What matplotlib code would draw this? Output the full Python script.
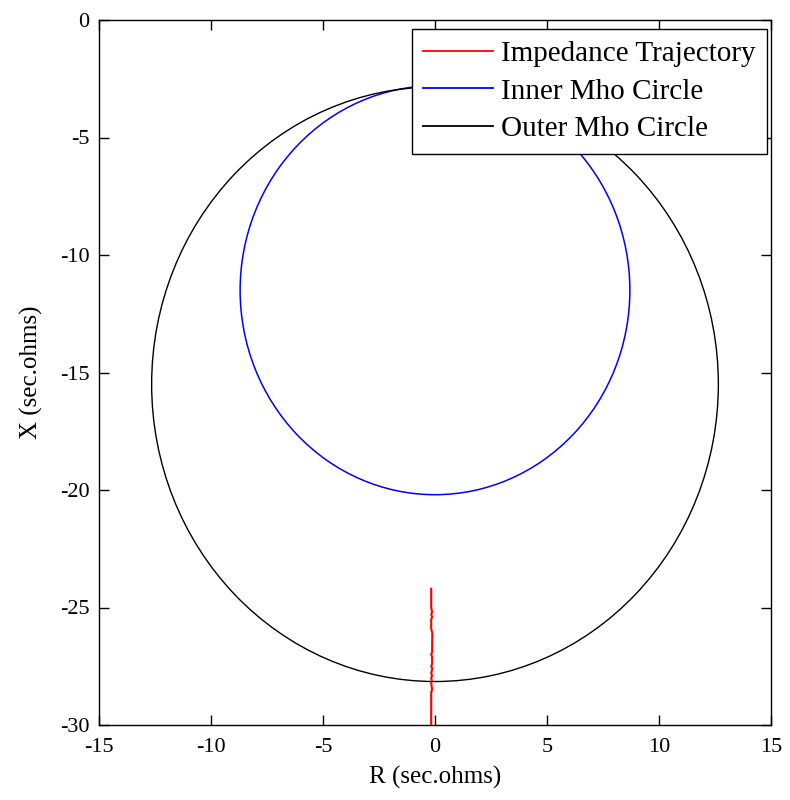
import matplotlib
matplotlib.use("Agg")
import matplotlib.pyplot as plt
from matplotlib.patches import Circle
from matplotlib.lines import Line2D

plt.rcParams['font.family'] = ['Liberation Serif', 'DejaVu Serif']
plt.rcParams['axes.unicode_minus'] = False

# Impedance trajectory samples (R, X) in secondary ohms
traj_r = [-0.17, -0.17, -0.17, -0.13, -0.17, -0.13, -0.17, -0.17, -0.12, -0.13,
          -0.17, -0.13, -0.13, -0.17, -0.12, -0.17, -0.13, -0.17, -0.14, -0.17,
          -0.13, -0.17, -0.17, -0.17]
traj_x = [-24.2, -24.6, -25.0, -25.2, -25.3, -25.4, -25.5, -25.9, -26.1, -26.9,
          -27.0, -27.1, -27.4, -27.5, -27.6, -27.8, -27.9, -28.0, -28.1, -28.2,
          -28.5, -28.6, -29.5, -31.0]

# Mho circles: centre (R, X) and radius
inner_center = (0.0, -11.5)
inner_radius = 8.7
outer_center = (0.0, -15.5)
outer_radius = 12.65

x_limits = (-15, 15)
y_limits = (-30, 0)
x_ticks = [-15, -10, -5, 0, 5, 10, 15]
y_ticks = [-30, -25, -20, -15, -10, -5, 0]

fig = plt.figure(figsize=(7.9, 8.0), dpi=100)
ax = fig.add_axes([99/790, 75/800, 672/790, 705/800])

ax.plot(traj_r, traj_x, color='#ff0000', lw=1.5, zorder=3)
ax.add_patch(Circle(inner_center, inner_radius, fill=False, ec='#0000ff', lw=1.1, zorder=2))
ax.add_patch(Circle(outer_center, outer_radius, fill=False, ec='black', lw=1.0, zorder=2))

ax.set_xlim(*x_limits)
ax.set_ylim(*y_limits)
ax.set_xticks(x_ticks)
ax.set_yticks(y_ticks)
ax.tick_params(direction='in', length=7, width=1, top=True, right=True,
               labelsize=16)
ax.tick_params(axis='x', pad=9)
ax.tick_params(axis='y', pad=7)
for s in ax.spines.values():
    s.set_linewidth(1)
ax.set_xlabel('R (sec.ohms)', fontsize=18, labelpad=7)
ax.set_ylabel('X (sec.ohms)', fontsize=18, labelpad=12)

handles = [Line2D([], [], color='#ff0000', lw=1.3),
           Line2D([], [], color='#0000ff', lw=1.3),
           Line2D([], [], color='black', lw=1.3)]
labels = ['Impedance Trajectory', 'Inner Mho Circle', 'Outer Mho Circle']
leg = ax.legend(handles, labels, loc='upper right',
                bbox_to_anchor=(1 - 4/672, 1 - 9/705), borderaxespad=0,
                fontsize=21, frameon=True,
                fancybox=False, edgecolor='black', framealpha=1,
                borderpad=0.4, labelspacing=0.38, handlelength=2.4,
                handletextpad=0.25)
leg.get_frame().set_linewidth(1)

fig.savefig('out.png', dpi=100)
